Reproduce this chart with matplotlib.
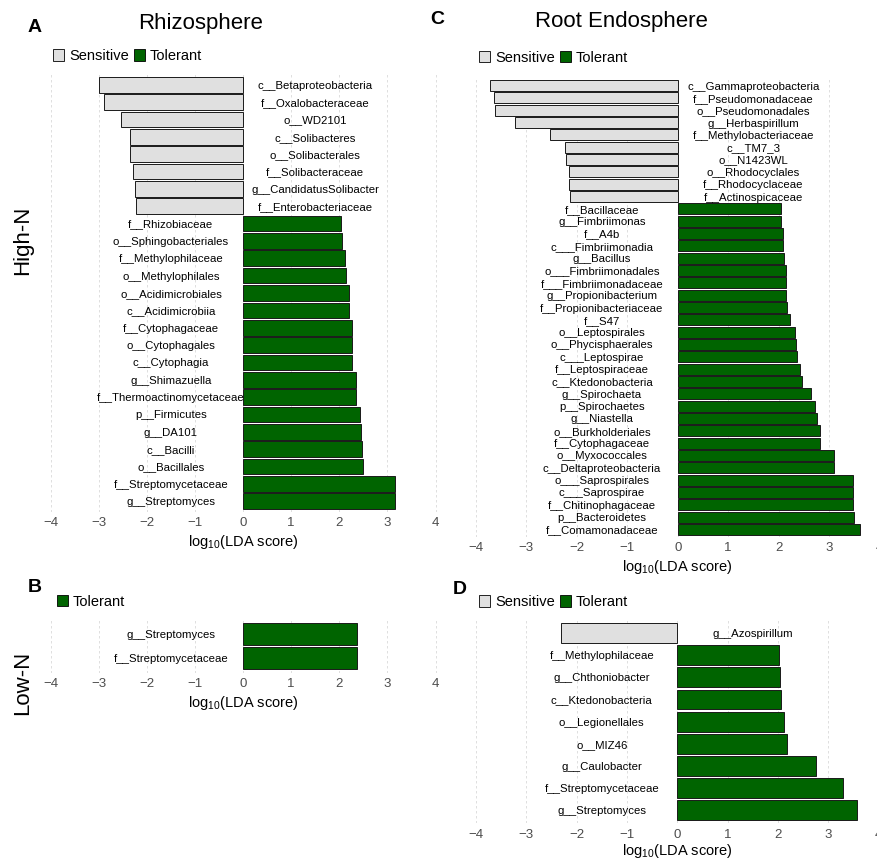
import matplotlib
matplotlib.use("Agg")
import matplotlib.pyplot as plt
from matplotlib.patches import Patch
import numpy as np

plt.rcParams['font.family'] = ['Liberation Sans', 'DejaVu Sans']
plt.rcParams['mathtext.default'] = 'regular'

# --- Data (top to bottom in each panel) ---
rhizo_high_taxa = [
    "c__Betaproteobacteria", "f__Oxalobacteraceae", "o__WD2101", "c__Solibacteres",
    "o__Solibacterales", "f__Solibacteraceae", "g__CandidatusSolibacter", "f__Enterobacteriaceae",
    "f__Rhizobiaceae", "o__Sphingobacteriales", "f__Methylophilaceae", "o__Methylophilales",
    "o__Acidimicrobiales", "c__Acidimicrobiia", "f__Cytophagaceae", "o__Cytophagales",
    "c__Cytophagia", "g__Shimazuella", "f__Thermoactinomycetaceae", "p__Firmicutes",
    "g__DA101", "c__Bacilli", "o__Bacillales", "f__Streptomycetaceae", "g__Streptomyces",
]
rhizo_high_lda = [
    -2.99, -2.90, -2.54, -2.35, -2.35, -2.28, -2.25, -2.22,
    2.03, 2.05, 2.12, 2.13, 2.20, 2.21, 2.26, 2.27,
    2.27, 2.35, 2.35, 2.43, 2.45, 2.48, 2.49, 3.15, 3.15,
]

rhizo_low_taxa = ["g__Streptomyces", "f__Streptomycetaceae"]
rhizo_low_lda = [2.36, 2.36]

endo_high_taxa = [
    "c__Gammaproteobacteria", "f__Pseudomonadaceae", "o__Pseudomonadales", "g__Herbaspirillum",
    "f__Methylobacteriaceae", "c__TM7_3", "o__N1423WL", "o__Rhodocyclales",
    "f__Rhodocyclaceae", "f__Actinospicaceae",
    "f__Bacillaceae", "g__Fimbriimonas", "f__A4b", "c___Fimbriimonadia", "g__Bacillus",
    "o___Fimbriimonadales", "f___Fimbriimonadaceae", "g__Propionibacterium",
    "f__Propionibacteriaceae", "f__S47", "o__Leptospirales", "o__Phycisphaerales",
    "c___Leptospirae", "f__Leptospiraceae", "c__Ktedonobacteria", "g__Spirochaeta",
    "p__Spirochaetes", "g__Niastella", "o__Burkholderiales", "f__Cytophagaceae",
    "o__Myxococcales", "c__Deltaproteobacteria", "o___Saprospirales", "c___Saprospirae",
    "f__Chitinophagaceae", "p__Bacteroidetes", "f__Comamonadaceae",
]
endo_high_lda = [
    -3.71, -3.63, -3.62, -3.22, -2.53, -2.23, -2.21, -2.15, -2.15, -2.13,
    2.04, 2.05, 2.08, 2.09, 2.10, 2.14, 2.15, 2.15, 2.16, 2.23,
    2.32, 2.34, 2.37, 2.42, 2.46, 2.64, 2.71, 2.76, 2.81, 2.82,
    3.10, 3.10, 3.47, 3.47, 3.48, 3.50, 3.60,
]

endo_low_taxa = [
    "g__Azospirillum", "f__Methylophilaceae", "g__Chthoniobacter", "c__Ktedonobacteria",
    "o__Legionellales", "o__MIZ46", "g__Caulobacter", "f__Streptomycetaceae", "g__Streptomyces",
]
endo_low_lda = [-2.32, 2.03, 2.05, 2.07, 2.13, 2.18, 2.75, 3.29, 3.57]

SENS = '#E0E0E0'
TOL = '#006400'

W, H = 877, 860
fig = plt.figure(figsize=(W / 100, H / 100), dpi=100)


def add_panel(x_m4, unit, top, bottom, lo=-4.2, hi=4.2):
    left = x_m4 + (lo + 4) * unit
    width = (hi - lo) * unit
    return fig.add_axes([left / W, 1 - bottom / H, width / W, (bottom - top) / H])


def draw_panel(ax, taxa, lda, labelpad=2.5):
    y = np.arange(len(taxa))
    colors = [TOL if v > 0 else SENS for v in lda]
    ax.barh(y, lda, height=0.9, color=colors, edgecolor='#1A1A1A', linewidth=0.7, zorder=2)
    for yi, t, v in zip(y, taxa, lda):
        ax.text(-1.5 if v > 0 else 1.5, yi, t, ha='center', va='center_baseline', fontsize=8.2)
    ax.set_xlim(-4.2, 4.2)
    ax.set_ylim(len(taxa) - 0.4, -0.6)
    ax.set_xticks(range(-4, 5))
    ax.set_yticks([])
    ax.grid(axis='x', linestyle=(0, (3, 3)), color='#D9D9D9', linewidth=0.6, zorder=0)
    ax.set_axisbelow(True)
    for s in ax.spines.values():
        s.set_visible(False)
    ax.tick_params(axis='x', length=0, pad=4, labelsize=9.5, labelcolor='#4D4D4D')
    ax.set_xlabel('log$_{10}$(LDA score)', fontsize=10.5, labelpad=labelpad)


def add_legend(x, y, with_sens=True):
    handles = []
    if with_sens:
        handles.append(Patch(facecolor=SENS, edgecolor='black', linewidth=0.6, label='Sensitive'))
    handles.append(Patch(facecolor=TOL, edgecolor='black', linewidth=0.6, label='Tolerant'))
    fig.legend(handles=handles, loc='center left', bbox_to_anchor=(x / W, 1 - y / H),
               frameon=False, ncol=len(handles), borderpad=0, borderaxespad=0,
               handlelength=0.75, handleheight=0.85, handletextpad=0.35,
               columnspacing=0.35, fontsize=10.5)


# --- A: Rhizosphere High-N ---
axA = add_panel(50.7, 48.1, 74.4, 511.6)
draw_panel(axA, rhizo_high_taxa, rhizo_high_lda)

# --- B: Rhizosphere Low-N ---
axB = add_panel(50.7, 48.1, 619.4, 672.6)
draw_panel(axB, rhizo_low_taxa, rhizo_low_lda)

# --- C: Root Endosphere High-N ---
axC = add_panel(475.7, 50.5, 78.2, 536.8)
draw_panel(axC, endo_high_taxa, endo_high_lda)

# --- D: Root Endosphere Low-N ---
axD = add_panel(476.0, 50.3, 619.9, 823.3)
draw_panel(axD, endo_low_taxa, endo_low_lda, labelpad=1)

add_legend(53, 56)
add_legend(57, 601.5, with_sens=False)
add_legend(479, 57.5)
add_legend(479, 602)

fig.text(201 / W, 1 - 24 / H, 'Rhizosphere', ha='center', va='center', fontsize=16)
fig.text(621.7 / W, 1 - 21.7 / H, 'Root Endosphere', ha='center', va='center', fontsize=16)

for lab, x, y in [('A', 35, 27), ('B', 35, 588), ('C', 437, 20), ('D', 460, 590)]:
    fig.text(x / W, 1 - y / H, lab, ha='center', va='center', fontsize=14, fontweight='bold')

fig.text(23 / W, 1 - 240 / H, 'High-N', rotation=90, ha='center', va='center', fontsize=16)
fig.text(23 / W, 1 - 683 / H, 'Low-N', rotation=90, ha='center', va='center', fontsize=16)

fig.savefig('out.png', dpi=100)
